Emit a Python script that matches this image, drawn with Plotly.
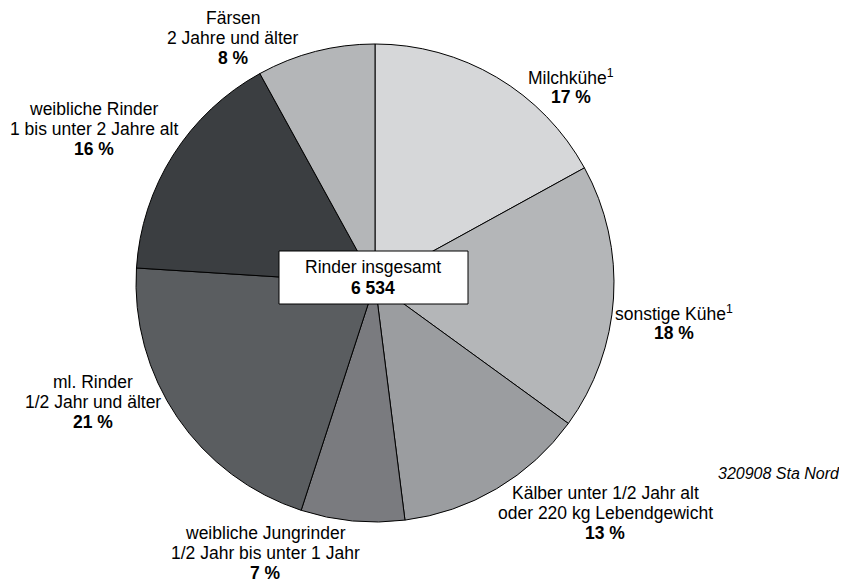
import plotly.graph_objects as go

categories = ["Milchkühe", "sonstige Kühe", "Kälber", "weibliche Jungrinder",
              "ml. Rinder", "weibliche Rinder", "Färsen"]
values = [17, 18, 13, 7, 21, 16, 8]
label_lines = [
    ["Milchkühe<sup>1</sup>"],
    ["sonstige Kühe<sup>1</sup>"],
    ["Kälber unter 1/2 Jahr alt", "oder 220 kg Lebendgewicht"],
    ["weibliche Jungrinder", "1/2 Jahr bis unter 1 Jahr"],
    ["ml. Rinder", "1/2 Jahr und älter"],
    ["weibliche Rinder", "1 bis unter 2 Jahre alt"],
    ["Färsen", "2 Jahre und älter"],
]
percent_labels = ["17 %", "18 %", "13 %", "7 %", "21 %", "16 %", "8 %"]
total_title = "Rinder insgesamt"
total_value = "6 534"
source = "320908 Sta Nord"

colors = ["#d6d7d9", "#b4b6b8", "#9b9da0", "#7a7b7f", "#5a5d60", "#3b3e41", "#b4b6b8"]

# page is 847x583, the html body adds an 8px margin
OFF = 8
W, H = 847 - OFF, 583 - OFF
cx, cy, r = 375, 283, 239

def px(x):
    return (x - OFF) / W

def py(y):
    return 1 - (y - OFF) / H

fig = go.Figure(go.Pie(
    labels=categories, values=values, sort=False, direction="clockwise", rotation=0,
    marker=dict(colors=colors, line=dict(color="black", width=1)),
    textinfo="none", hoverinfo="label+percent", showlegend=False,
    domain=dict(x=[px(cx - r), px(cx + r)], y=[py(cy + r), py(cy - r)]),
))

# label positions (page pixel centres of first line) and line step
label_pos = [(571, 77), (674, 313), (605, 493), (265, 533), (93, 382), (94, 109), (233, 18)]
step = 20
font = "Liberation Sans, Arial, sans-serif"
fs = 17.5
ann = []
for lines, pct, (lx, ly) in zip(label_lines, percent_labels, label_pos):
    all_lines = lines + ["<b>" + pct + "</b>"]
    for i, t in enumerate(all_lines):
        ann.append(dict(x=px(lx), y=py(ly + i * step), xref="paper", yref="paper",
                        text=t, showarrow=False, xanchor="center", yanchor="middle",
                        font=dict(family=font, size=fs, color="black")))

ann.append(dict(x=px(373), y=py(267), xref="paper", yref="paper", text=total_title,
                showarrow=False, xanchor="center", yanchor="middle",
                font=dict(family=font, size=fs, color="black")))
ann.append(dict(x=px(373), y=py(288), xref="paper", yref="paper", text="<b>" + total_value + "</b>",
                showarrow=False, xanchor="center", yanchor="middle",
                font=dict(family=font, size=fs, color="black")))
ann.append(dict(x=px(842), y=py(473), xref="paper", yref="paper", text="<i>" + source + "</i>",
                showarrow=False, xanchor="right", yanchor="middle",
                font=dict(family=font, size=16, color="black")))

fig.update_layout(
    width=W, height=H, margin=dict(l=0, r=0, t=0, b=0),
    paper_bgcolor="white", plot_bgcolor="white",
    annotations=ann,
    shapes=[dict(type="rect", xref="paper", yref="paper",
                 x0=px(279), x1=px(468), y0=py(304), y1=py(251),
                 fillcolor="white", line=dict(color="black", width=1), layer="above")],
)

fig.write_html("out.html")
